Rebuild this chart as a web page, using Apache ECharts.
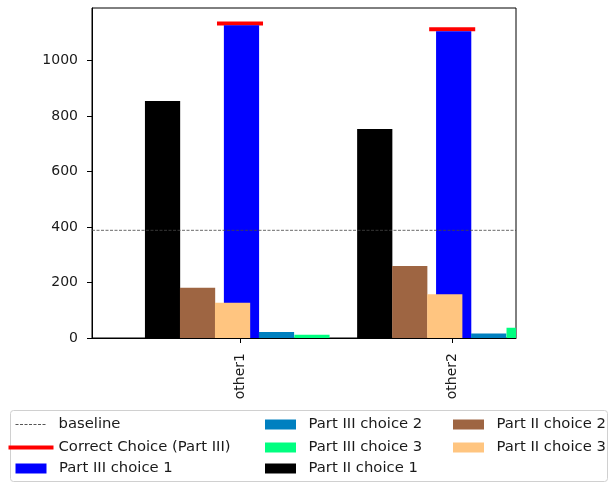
<!DOCTYPE html>
<html>
<head>
<meta charset="utf-8">
<script src="https://cdn.jsdelivr.net/npm/echarts@6/dist/echarts.min.js"></script>
<style>
  html, body { margin: 0; padding: 0; background: #fff; }
  #chart { width: 610px; height: 484px; }
</style>
</head>
<body>
<div id="chart"></div>
<script>
// Categories on the x axis
const categories = ['other1', 'other2'];

// Part III answer counts
const partIIIChoice1 = [1127, 1105];
const partIIIChoice2 = [22, 16];
const partIIIChoice3 = [12, 37];

// Part II answer counts
const partIIChoice1 = [854, 753];
const partIIChoice2 = [181, 259];
const partIIChoice3 = [127, 158];

// Correct choice marker level (Part III) and the reference baseline
const correctChoice = [1133, 1112];
const baselineValue = 388;

// Y axis ticks
const yTicks = [0, 200, 400, 600, 800, 1000];

// ---- layout (in x-axis units, one unit per category) ----
const X_MIN = -0.6975, X_MAX = 1.3007;
const BAR_W = 0.166;
const MARK_W = 0.217;
const FONT = 'DejaVu Sans';
const TEXT = '#1a1a1a';
const LEGEND_FONT = 14.8;

function barSeries(name, values, offset, color) {
  return {
    name: name,
    type: 'custom',
    clip: true,
    itemStyle: { color: color },
    data: values.map((v, i) => [i, v]),
    renderItem: function (params, api) {
      const x = api.value(0) + offset;
      const y = api.value(1);
      const p0 = api.coord([x - BAR_W / 2, y]);
      const p1 = api.coord([x + BAR_W / 2, 0]);
      return {
        type: 'rect',
        shape: { x: p0[0], y: p0[1], width: p1[0] - p0[0], height: p1[1] - p0[1] },
        style: { fill: color }
      };
    }
  };
}

const correctSeries = {
  name: 'Correct Choice (Part III)',
  type: 'custom',
  clip: true,
  itemStyle: { color: '#ff0000' },
  data: correctChoice.map((v, i) => [i, v]),
  renderItem: function (params, api) {
    const x = api.value(0);
    const y = api.value(1);
    const a = api.coord([x - MARK_W / 2, y]);
    const b = api.coord([x + MARK_W / 2, y]);
    return {
      type: 'line',
      shape: { x1: a[0], y1: a[1], x2: b[0], y2: b[1] },
      style: { stroke: '#ff0000', lineWidth: 4 }
    };
  }
};

const baselineSeries = {
  name: 'baseline',
  type: 'line',
  symbol: 'none',
  silent: true,
  lineStyle: { color: '#444', width: 0.8, type: [3, 1.5] },
  itemStyle: { color: '#555' },
  data: [[X_MIN, baselineValue], [X_MAX, baselineValue]]
};

const series = [
  baselineSeries,
  correctSeries,
  barSeries('Part III choice 1', partIIIChoice1, 0.007, '#0000ff'),
  barSeries('Part III choice 2', partIIIChoice2, 0.172, '#0080c0'),
  barSeries('Part III choice 3', partIIIChoice3, 0.339, '#00ff80'),
  barSeries('Part II choice 1', partIIChoice1, -0.365, '#000000'),
  barSeries('Part II choice 2', partIIChoice2, -0.200, '#9e6542'),
  barSeries('Part II choice 3', partIIChoice3, -0.035, '#ffc580')
];

// dashed strip used as the legend handle of the baseline
function dashPath(total, dash, gap) {
  let d = '';
  for (let x = 0; x < total; x += dash + gap) {
    const e = Math.min(x + dash, total);
    d += 'M' + x + ',0L' + e + ',0L' + e + ',1L' + x + ',1Z';
  }
  return 'path://' + d;
}

// one legend entry per component so each handle can be placed freely
function legendItem(name, left, cy, opts) {
  return Object.assign({
    data: [name],
    left: left,
    top: cy - 8,
    padding: 0,
    itemWidth: 31,
    itemHeight: 10,
    icon: 'rect',
    selectedMode: false,
    textStyle: { fontFamily: FONT, fontSize: LEGEND_FONT, color: TEXT, lineHeight: 16, padding: [0, 0, 0, 7.5] }
  }, opts || {});
}

const rows = [424.5, 447.5, 468.5];
const legends = [
  legendItem('baseline', 15.5, rows[0], { icon: dashPath(31, 3, 1.5), itemHeight: 1 }),
  legendItem('Correct Choice (Part III)', 8.5, rows[1], {
    itemWidth: 45, itemHeight: 4,
    textStyle: { fontFamily: FONT, fontSize: LEGEND_FONT, color: TEXT, lineHeight: 16, padding: [0, 0, 0, 0] }
  }),
  legendItem('Part III choice 1', 15.5, rows[2]),
  legendItem('Part III choice 2', 265, rows[0]),
  legendItem('Part III choice 3', 265, rows[1]),
  legendItem('Part II choice 1', 265, rows[2]),
  legendItem('Part II choice 2', 453, rows[0]),
  legendItem('Part II choice 3', 453, rows[1])
];

const chart = echarts.init(document.getElementById('chart'), null, { renderer: 'canvas' });
chart.setOption({
  animation: false,
  backgroundColor: '#fff',
  grid: {
    left: 92, right: 94, top: 8, bottom: 146,
    show: true, borderColor: '#000', borderWidth: 1
  },
  xAxis: {
    type: 'value',
    min: X_MIN,
    max: X_MAX,
    splitLine: { show: false },
    axisLine: { show: true, onZero: false, lineStyle: { color: '#000', width: 1 } },
    axisTick: { show: true, length: 5, lineStyle: { color: '#000' }, customValues: categories.map((c, i) => i) },
    axisLabel: {
      customValues: categories.map((c, i) => i),
      formatter: v => categories[Math.round(v)],
      rotate: 90,
      margin: 15,
      fontFamily: FONT, fontSize: 14, color: TEXT
    }
  },
  yAxis: {
    type: 'value',
    min: 0,
    max: 1189,
    splitLine: { show: false },
    axisLine: { show: true, onZero: false, lineStyle: { color: '#000', width: 1 } },
    axisTick: { show: true, length: 5, lineStyle: { color: '#000' }, customValues: yTicks },
    axisLabel: {
      customValues: yTicks,
      formatter: v => String(v),
      margin: 14,
      fontFamily: FONT, fontSize: 14, color: TEXT
    }
  },
  legend: legends,
  graphic: [{
    type: 'rect',
    shape: { x: 10.5, y: 410.5, width: 597, height: 71, r: 3 },
    style: { fill: 'none', stroke: '#d0d0d0', lineWidth: 1 },
    silent: true
  }],
  series: series
});
</script>
</body>
</html>
